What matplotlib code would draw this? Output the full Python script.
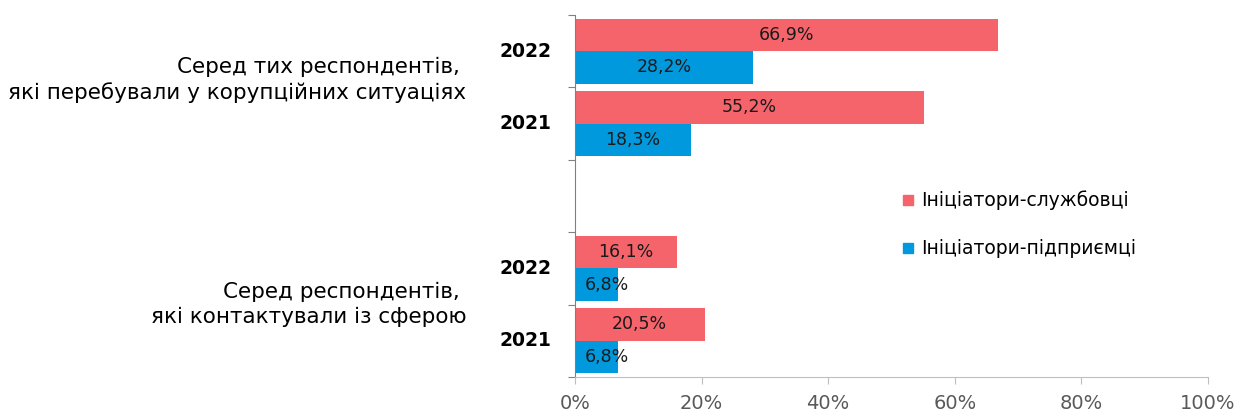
import matplotlib.pyplot as plt
from matplotlib.lines import Line2D
from matplotlib.ticker import FuncFormatter

# shares of respondents, %
groups = ["Серед тих респондентів, \nякі перебували у корупційних ситуаціях",
          "Серед респондентів, \nякі контактували із сферою"]
years = ["2022", "2021", "2022", "2021"]
officials = [66.9, 55.2, 16.1, 20.5]
entrepreneurs = [28.2, 18.3, 6.8, 6.8]
series_names = ["Ініціатори-службовці", "Ініціатори-підприємці"]

RED = "#F5636B"
BLUE = "#0099DD"
GREY = "#BFBFBF"

plt.rcParams["font.family"] = ["DejaVu Sans"]

fig = plt.figure(figsize=(12.39, 4.15), dpi=100)
ax = fig.add_axes([0.464, 0.0916, 0.511, 0.8723])

# one slot per year, an empty slot between the two groups
pos = [0, 1, 3, 4]
h = 0.45
ax.barh([p - h / 2 for p in pos], officials, height=h, color=RED)
ax.barh([p + h / 2 for p in pos], entrepreneurs, height=h, color=BLUE)

for p, v in zip(pos, officials):
    ax.text(max(v / 2, 5.1), p - h / 2, f"{v:.1f}%".replace(".", ","),
            ha="center", va="center", fontsize=12.5, color="#1a1a1a")
for p, v in zip(pos, entrepreneurs):
    ax.text(max(v / 2, 5.1), p + h / 2, f"{v:.1f}%".replace(".", ","),
            ha="center", va="center", fontsize=12.5, color="#1a1a1a")

ax.set_xlim(0, 100)
ax.set_ylim(4.5, -0.5)
ax.set_xticks([0, 20, 40, 60, 80, 100])
ax.xaxis.set_major_formatter(FuncFormatter(lambda x, _: f"{x:.0f}%"))
ax.tick_params(axis="x", colors=GREY, labelcolor="#595959", labelsize=14,
               length=5, pad=7)
ax.set_yticks([-0.5, 0.5, 1.5, 2.5, 3.5, 4.5])
ax.set_yticklabels([])
ax.tick_params(axis="y", colors="#808080", length=5)

for s in ["top", "right"]:
    ax.spines[s].set_visible(False)
ax.spines["left"].set_color("#808080")
ax.spines["bottom"].set_color(GREY)

# year labels and group captions
for p, y in zip(pos, years):
    ax.annotate(y, xy=(0, p), xycoords=("axes fraction", "data"),
                xytext=(-17, 0), textcoords="offset points",
                ha="right", va="center", fontsize=13.5, fontweight="bold")
for yc, g in zip([0.4, 3.5], groups):
    ax.annotate(g, xy=(0, yc), xycoords=("axes fraction", "data"),
                xytext=(-78, 0), textcoords="offset points",
                ha="right", va="center", fontsize=15.5, multialignment="right",
                linespacing=1.3)

handles = [Line2D([], [], marker="s", linestyle="", markersize=7, color=c)
           for c in (RED, BLUE)]
ax.legend(handles, series_names, loc="center left",
          bbox_to_anchor=(0.518, 0.421), frameon=False, fontsize=13.5,
          handlelength=0.6, handletextpad=0.35, labelspacing=1.55,
          borderpad=0, borderaxespad=0)

fig.savefig("out.png", dpi=100)
